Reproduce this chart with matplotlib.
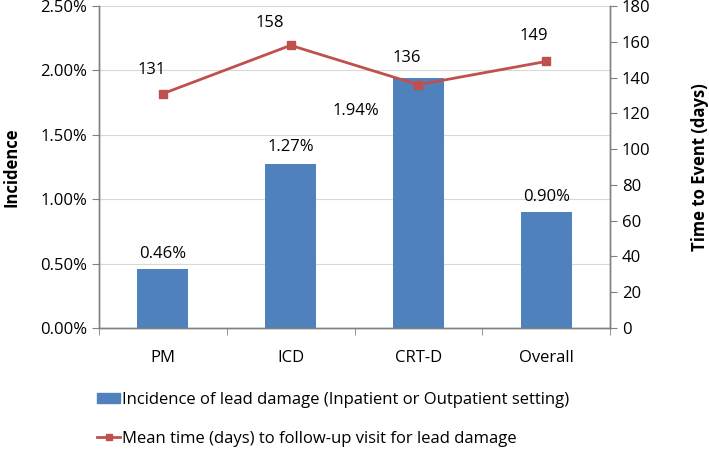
import matplotlib
matplotlib.use("Agg")
import matplotlib.pyplot as plt
from matplotlib.ticker import FuncFormatter, MultipleLocator, FixedLocator
from matplotlib.patches import Patch
from matplotlib.lines import Line2D

plt.rcParams['font.family'] = ['Open Sans', 'DejaVu Sans']

categories = ["PM", "ICD", "CRT-D", "Overall"]
incidence = [0.46, 1.27, 1.94, 0.90]
mean_days = [131, 158, 136, 149]
bar_label_text = ["0.46%", "1.27%", "1.94%", "0.90%"]
line_label_text = ["131", "158", "136", "149"]
legend_labels = ["Incidence of lead damage (Inpatient or Outpatient setting)",
                 "Mean time (days) to follow-up visit for lead damage"]

bar_color = "#4F81BD"
line_color = "#C0504D"
FS = 12

fig = plt.figure(figsize=(7.09, 4.51), dpi=100)
ax = fig.add_axes([99/709, 1-328/451, (610-99)/709, (328-6)/451])
ax2 = ax.twinx()

x = list(range(len(categories)))
ax.bar(x, incidence, width=0.4, color=bar_color, zorder=3)
ax.set_xlim(-0.5, len(categories)-0.5)
ax.set_ylim(0, 2.5)
ax.yaxis.set_major_locator(MultipleLocator(0.5))
ax.yaxis.set_major_formatter(FuncFormatter(lambda v, p: f"{v:.2f}%"))
ax.grid(axis='y', color='#D9D9D9', linewidth=0.8, zorder=0)
ax.set_axisbelow(True)
ax.set_xticks(x)
ax.set_xticklabels(categories)
ax.xaxis.set_minor_locator(FixedLocator([i - 0.5 for i in range(len(categories)+1)]))
ax.tick_params(axis='x', which='major', length=0, pad=16, labelsize=FS)
ax.tick_params(axis='x', which='minor', length=5, direction='out', color='#808080')
ax.tick_params(axis='y', length=5, direction='out', color='#808080', labelsize=FS)
ax.set_ylabel("Incidence", fontsize=FS, fontweight='bold', labelpad=14)

ax2.plot(x, mean_days, color=line_color, linewidth=2, marker='s', markersize=6, zorder=4)
ax2.set_ylim(0, 180)
ax2.yaxis.set_major_locator(MultipleLocator(20))
ax2.tick_params(axis='y', length=5, direction='out', color='#808080', labelsize=FS)
ax2.set_ylabel("Time to Event (days)", fontsize=FS, fontweight='bold', labelpad=29)

for a in (ax, ax2):
    a.spines['top'].set_visible(False)
    for s in ('left', 'right', 'bottom'):
        a.spines[s].set_color('#808080')
        a.spines[s].set_linewidth(1)

bar_offsets = [(0, 15), (0, 17), (-62, -33), (0, 15)]
for i, (v, t) in enumerate(zip(incidence, bar_label_text)):
    ax.annotate(t, (i, v), xytext=bar_offsets[i], textcoords='offset pixels',
                ha='center', va='center', fontsize=FS)

line_offsets = [(-11, 24), (-21, 22), (-12, 27), (-12, 25)]
for i, (v, t) in enumerate(zip(mean_days, line_label_text)):
    ax2.annotate(t, (i, v), xytext=line_offsets[i], textcoords='offset pixels',
                 ha='center', va='center', fontsize=FS)

handles = [Patch(color=bar_color),
           Line2D([0], [0], color=line_color, linewidth=2, marker='s', markersize=5)]
legend_y = [400, 439]
for h, lab, yy in zip(handles, legend_labels, legend_y):
    fig.legend([h], [lab], loc='center left', bbox_to_anchor=(97/709, 1-yy/451),
               frameon=False, fontsize=FS, handlelength=1.4, handletextpad=0.1,
               handleheight=0.6, borderpad=0, borderaxespad=0)

fig.savefig("out.png", dpi=100)
